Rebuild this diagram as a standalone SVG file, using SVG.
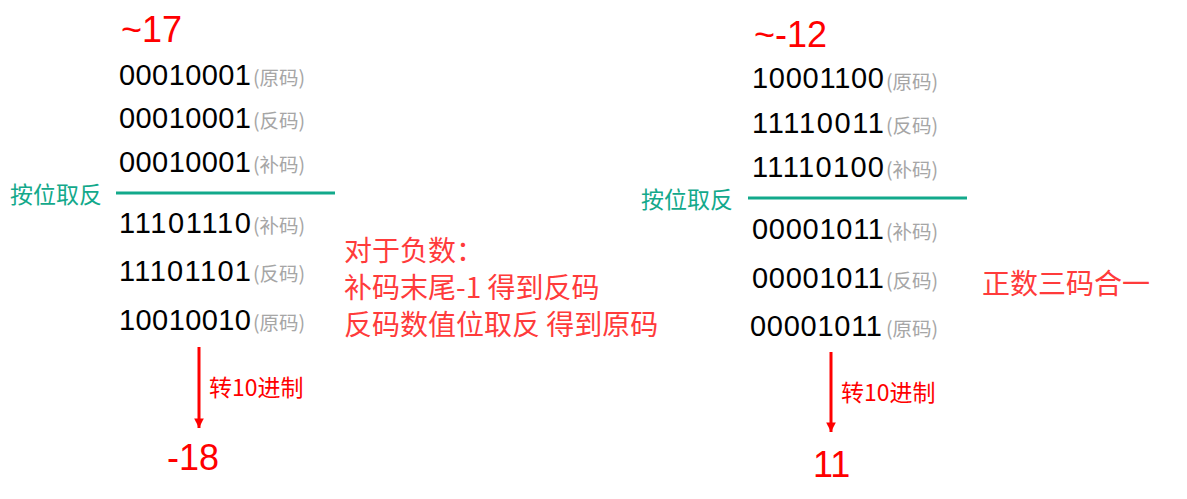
<svg xmlns="http://www.w3.org/2000/svg" width="1187" height="499" viewBox="0 0 1187 499">
<style>
.bin{font-family:"Liberation Sans","Noto Sans CJK SC",sans-serif;font-size:29px;fill:#000}
.lab{font-family:"Noto Sans CJK SC",sans-serif;font-size:19.5px;fill:#a6a6a6}
.big{font-family:"Liberation Sans",sans-serif;font-size:36px;fill:#ff0000}
.op{font-family:"Noto Sans CJK SC",sans-serif;font-size:23px;fill:#13a98b}
.note{font-family:"Noto Sans CJK SC",sans-serif;font-size:28px;fill:#ff3b3b}
.cv{font-family:"Noto Sans CJK SC",sans-serif;font-size:23px;fill:#ff0000}
.rule{stroke:#13a98b;stroke-width:3}
.arr{stroke:#ff0000;stroke-width:3;fill:none}
</style>
<defs>
<marker id="ah" viewBox="0 0 10 10" refX="10" refY="5" markerWidth="3.2" markerHeight="3.6" orient="auto" markerUnits="strokeWidth">
<path d="M0,0 L10,5 L0,10 Z" fill="#ff0000"/>
</marker>
</defs>
<g id="left">
<text class="big" x="121" y="42">~17</text>
<text class="bin" x="119" y="85" textLength="132">00010001</text><text class="lab" x="253" y="85">(原码)</text>
<text class="bin" x="119" y="128" textLength="132">00010001</text><text class="lab" x="253" y="128">(反码)</text>
<text class="bin" x="119" y="172" textLength="132">00010001</text><text class="lab" x="253" y="172">(补码)</text>
<text class="op" x="10" y="203">按位取反</text>
<line class="rule" x1="116" y1="193" x2="335" y2="193"/>
<text class="bin" x="119" y="233" textLength="132">11101110</text><text class="lab" x="253" y="233">(补码)</text>
<text class="bin" x="119" y="281" textLength="132">11101101</text><text class="lab" x="253" y="281">(反码)</text>
<text class="bin" x="119" y="330" textLength="132">10010010</text><text class="lab" x="253" y="330">(原码)</text>
<text class="cv" x="209" y="396">转10进制</text>
<text class="big" x="167" y="470">-18</text>
</g>
<g id="note">
<text class="note" x="344" y="261">对于负数：</text>
<text class="note" x="344" y="298">补码末尾-1 得到反码</text>
<text class="note" x="344" y="335">反码数值位取反 得到原码</text>
</g>
<g id="right">
<text class="big" x="754" y="47">~-12</text>
<text class="bin" x="752" y="88" textLength="132">10001100</text><text class="lab" x="886" y="89">(原码)</text>
<text class="bin" x="752" y="133" textLength="132">11110011</text><text class="lab" x="886" y="133">(反码)</text>
<text class="bin" x="752" y="177" textLength="132">11110100</text><text class="lab" x="886" y="177">(补码)</text>
<text class="op" x="641" y="208">按位取反</text>
<line class="rule" x1="748" y1="198" x2="967" y2="198"/>
<text class="bin" x="752" y="239" textLength="132">00001011</text><text class="lab" x="886" y="239">(补码)</text>
<text class="bin" x="752" y="288" textLength="132">00001011</text><text class="lab" x="886" y="288">(反码)</text>
<text class="bin" x="750" y="336" textLength="132">00001011</text><text class="lab" x="886" y="336">(原码)</text>
<text class="cv" x="841" y="401">转10进制</text>
<text class="big" x="813" y="477">11</text>
<text class="note" x="982" y="294">正数三码合一</text>
</g>
<g id="connectors">
<line class="arr" x1="199" y1="347" x2="199" y2="428" marker-end="url(#ah)"/>
<line class="arr" x1="831" y1="352" x2="831" y2="432" marker-end="url(#ah)"/>
</g>
</svg>
